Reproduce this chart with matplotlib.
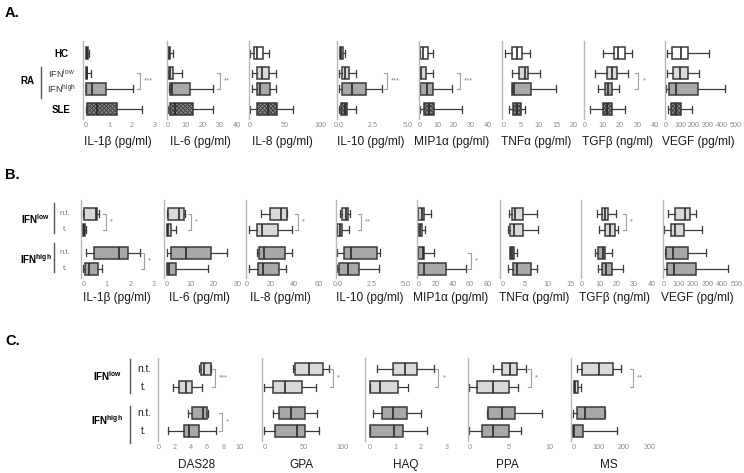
import matplotlib
matplotlib.use("Agg")
import matplotlib.pyplot as plt

W, H = 744, 473

plt.rcParams["font.family"] = ["Liberation Sans", "DejaVu Sans"]
plt.rcParams["mathtext.fontset"] = "custom"
plt.rcParams["mathtext.rm"] = "Liberation Sans"
plt.rcParams["mathtext.bf"] = "Liberation Sans:bold"
plt.rcParams["hatch.linewidth"] = 0.6

# ---- data: (whisker low, q1, median, q3, whisker high) per row ----
# A: rows HC, RA IFNlow, RA IFNhigh, SLE
A_IL1B = [(0, 0, 0.05, 0.1, 0.12), (0, 0, 0.03, 0.06, 0.2), (0, 0, 0.25, 0.87, 2.05), (0, 0.05, 0.46, 1.33, 2.45)]
A_IL6 = [(0, 0, 0.5, 1.3, 2.9), (0, 0.4, 1.3, 3.3, 8), (0.5, 1.3, 2.3, 12.8, 26.2), (0, 1.3, 4.2, 14.7, 26.2)]
A_IL8 = [(0, 5, 9.5, 19, 27.6), (2.4, 10.5, 16.7, 27.6, 37), (2.4, 9.5, 14.3, 28.6, 37), (0, 10.5, 26.2, 39, 62)]
A_IL10 = [(0.07, 0.07, 0.15, 0.27, 0.44), (0.02, 0.2, 0.44, 0.73, 1.24), (0.02, 0.24, 0.97, 1.95, 3.17), (0.02, 0.15, 0.41, 0.61, 1.24)]
A_MIP1A = [(0, 0, 1.6, 4.9, 7.4), (0, 0, 0.8, 3.3, 7.8), (0, 0, 4.3, 7.4, 18.5), (0, 2.5, 5.5, 8.2, 24.4)]
A_TNFA = [(0.5, 2.4, 3.8, 5.2, 7.5), (2.6, 4.5, 6.1, 6.9, 10.4), (2.6, 2.6, 3.0, 7.7, 14.9), (1.7, 2.8, 3.8, 4.9, 6.1)]
A_TGFB = [(10.5, 16.6, 19, 22.9, 26.7), (5.7, 12.4, 15.2, 18.1, 24.8), (7.2, 11.4, 13.3, 15.2, 19.6), (2.9, 10.5, 12.8, 15.2, 22.9)]
A_VEGF = [(10, 40, 105, 160, 310), (5, 48, 100, 160, 238), (0, 24, 71, 231, 421), (17, 36, 71, 105, 183)]

# B: rows IFNlow n.t., IFNlow t., IFNhigh n.t., IFNhigh t.
B_IL1B = [(0, 0.03, 0.52, 0.57, 0.68), (0, 0, 0.03, 0.08, 0.1), (0.1, 0.47, 1.5, 1.91, 2.4), (0, 0.07, 0.25, 0.64, 0.8)]
B_IL6 = [(0, 0.7, 5.2, 7.5, 7.9), (0.3, 0.3, 0.7, 1.7, 3.8), (0.3, 1.8, 8.1, 18.7, 25.5), (0.3, 0.3, 1.1, 3.8, 17.5)]
B_IL8 = [(12, 19.5, 28.8, 33.5, 34), (2.2, 9, 12.6, 26, 37.7), (8.4, 10.6, 14.8, 32, 37.7), (2.2, 9.8, 14, 27, 32.7)]
B_IL10 = [(0.2, 0.36, 0.61, 0.75, 0.92), (0, 0, 0.19, 0.36, 0.85), (0, 0.51, 0.97, 2.86, 3.1), (0, 0.15, 0.75, 1.58, 3.06)]
B_MIP1A = [(0, 0, 4.6, 6.6, 14.3), (0, 0, 1.5, 3.9, 7.7), (0, 0, 5.8, 7, 18), (0, 0, 6.6, 32, 55.2)]
B_TNFA = [(1.55, 2.07, 2.9, 4.5, 7.6), (1.33, 1.7, 2.66, 4.5, 8.0), (1.7, 1.7, 2.2, 2.66, 3.3), (1.33, 2.44, 3.33, 6.3, 7.6)]
B_TGFB = [(9, 11.4, 13.3, 14.9, 19.4), (10.1, 13.5, 16.2, 19, 21), (7.4, 9.1, 12.4, 13.3, 17.1), (9.1, 11.8, 13.7, 17.5, 23.8)]
B_VEGF = [(34, 82, 148, 182, 223), (7, 50, 80, 143, 266), (11, 18, 64, 170, 291), (0, 27, 73, 223, 443)]

# C: rows IFNlow n.t., IFNlow t., IFNhigh n.t., IFNhigh t.
C_DAS28 = [(4.98, 5.19, 5.6, 6.43, 6.5), (1.78, 2.53, 3.36, 4.1, 5.3), (3.57, 4.1, 5.52, 6.0, 6.1), (1.16, 3.11, 3.78, 4.98, 7.05)]
C_GPA = [(36.3, 39.3, 57.7, 75.6, 82.5), (0, 10.7, 26.5, 47.9, 66.2), (11.5, 18.4, 33.8, 51.7, 67), (0, 13.7, 41.5, 52.6, 70.5)]
C_HAQ = [(0.26, 0.91, 1.37, 1.83, 2.5), (0, 0, 0.39, 1.11, 1.5), (0.13, 0.46, 0.89, 1.46, 2.0), (0, 0, 0.95, 1.3, 2.22)]
C_PPA = [(3.0, 4.06, 5.1, 6.03, 7.07), (0, 1.0, 3.0, 5.02, 6.07), (2.18, 2.3, 4.06, 5.73, 9.08), (0, 1.55, 3.0, 5.02, 6.49)]
C_MS = [(15.8, 32.9, 102.6, 155, 187), (2.6, 2.6, 8, 19.7, 30.3), (0, 15.8, 46, 123.7, 123.7), (0, 0, 4, 39.5, 173.7)]

A_LABELS = ["IL-1β (pg/ml)", "IL-6 (pg/ml)", "IL-8 (pg/ml)", "IL-10 (pg/ml)",
            "MIP1α (pg/ml)", "TNFα (pg/ml)", "TGFβ (ng/ml)", "VEGF (pg/ml)"]
C_LABELS = ["DAS28", "GPA", "HAQ", "PPA", "MS"]

A_TICKS = [[0, 1, 2, 3], [0, 10, 20, 30, 40], [0, 50, 100], [0, 2.5, 5],
           [0, 10, 20, 30, 40], [0, 5, 10, 15, 20], [0, 10, 20, 30, 40], [0, 100, 200, 300, 400, 500]]
B_TICKS = [[0, 1, 2, 3], [0, 10, 20, 30], [0, 20, 40, 60], [0, 2.5, 5],
           [0, 20, 40, 60, 80], [0, 5, 10, 15], [0, 10, 20, 30, 40], [0, 100, 200, 300, 400, 500]]
C_TICKS = [[0, 2, 4, 6, 8, 10], [0, 50, 100], [0, 1, 2, 3], [0, 5, 10], [0, 100, 200, 300]]

# significance brackets: (row a, row b, x value, stars)
A_SIG = [[(1, 2, 2.35, "***")], [(1, 2, 30, "**")], [], [(1, 2, 3.5, "***")],
         [(1, 2, 23.4, "***")], [], [(1, 2, 30.5, "*")], []]
B_SIG = [[(0, 1, 0.96, "*"), (2, 3, 2.57, "*")], [(0, 1, 10.2, "*")], [(0, 1, 42.7, "*")],
         [(0, 1, 1.72, "**")], [(2, 3, 60.7, "*")], [], [(0, 1, 25.3, "*")], []]
C_SIG = [[(0, 1, 6.97, "***"), (2, 3, 7.8, "*")], [(0, 1, 87.6, "*")], [(0, 1, 2.67, "*")],
         [(0, 1, 7.74, "*")], [(0, 1, 234, "**")]]

# ---- layout (pixels) ----
WHITE, LIGHT, MID, DARK = "#ffffff", "#d9d9d9", "#a8a8a8", "#8c8c8c"
EDGE = "#3a3a3a"

# (spine x, zero x, end x, end value)
A_X = [(83, 86, 155, 3), (166.7, 167.7, 237.3, 40), (249.3, 250, 320, 100), (337.3, 339, 407.3, 5),
       (419.3, 420, 488.3, 40), (502.3, 503.3, 574, 20), (584.3, 585, 655, 40), (665.3, 666, 736, 500)]
B_X = [(81, 83.3, 154, 3), (164, 166.7, 237.3, 30), (246, 246.7, 318.3, 60), (335.7, 337.3, 406, 5),
       (416.7, 418.3, 487.3, 80), (500, 502.3, 570, 15), (581, 581.7, 651.7, 40), (662.7, 663.3, 736.7, 500)]
C_X = [(158.3, 159, 239.3, 10), (261.7, 264.3, 342.3, 100), (365, 370, 446.7, 3),
       (468.3, 469.3, 549, 10), (570.7, 573.3, 649.3, 300)]

A_ROWS = [53.5, 73.5, 89, 109.5]
B_ROWS = [213.5, 229.5, 252.5, 268.5]
C_ROWS = [368.5, 387, 413, 430.5]


def draw_panel(fig, xspec, top, bottom, rows, stats, fills, ticks, label, label_y,
               label_size, sigs, hatch_last=False, decimal=False):
    spine, zero, end, vmax = xspec
    scale = (end - zero) / vmax
    ax = fig.add_axes([spine / W, 1 - bottom / H, (end - spine) / W, (bottom - top) / H])
    ax.set_xlim(-(zero - spine) / scale, vmax)
    ax.set_ylim(bottom, top)

    bstats = [dict(whislo=s[0], q1=s[1], med=s[2], q3=s[3], whishi=s[4]) for s in stats]
    art = ax.bxp(bstats, positions=rows, widths=12, capwidths=7, orientation="horizontal",
                 patch_artist=True, showfliers=False, manage_ticks=False,
                 boxprops=dict(edgecolor=EDGE, linewidth=1.1),
                 medianprops=dict(color="#2a2a2a", linewidth=1.2),
                 whiskerprops=dict(color=EDGE, linewidth=0.9),
                 capprops=dict(color=EDGE, linewidth=0.9))
    for i, patch in enumerate(art["boxes"]):
        patch.set_facecolor(fills[i])
        if hatch_last and i == len(art["boxes"]) - 1:
            patch.set_hatch("xxxxxxxx")

    for a, b, x, stars in sigs:
        arm = 3 / scale
        ya, yb = rows[a], rows[b]
        ax.plot([x - arm, x, x, x - arm], [ya, ya, yb, yb], color="#a0a0a0",
                linewidth=0.8, clip_on=False)
        ax.annotate(stars, (x, (ya + yb) / 2), xytext=(3, 0), textcoords="offset points",
                    ha="left", va="center", fontsize=5.5, color="#808080")

    for side in ["top", "right", "bottom"]:
        ax.spines[side].set_visible(False)
    ax.spines["left"].set_color("#b8b8b8")
    ax.spines["left"].set_linewidth(1.0)
    ax.set_yticks([])
    ax.set_xticks(ticks)
    ax.set_xticklabels([f"{t:.1f}" if decimal else str(t) for t in ticks])
    ax.tick_params(axis="x", length=0, labelsize=5.2, labelcolor="#8c8c8c", pad=2)

    fig.text((zero + end) / 2 / W - 0.003, 1 - label_y / H, label, ha="center", va="center",
             fontsize=label_size, color="#1a1a1a")
    return ax


def main():
    fig = plt.figure(figsize=(W / 100, H / 100), dpi=100)
    fig.patch.set_facecolor("white")

    def ftext(x, y, s, **kw):
        fig.text(x / W, 1 - y / H, s, **kw)

    def fline(x0, y0, x1, y1, **kw):
        fig.add_artist(plt.Line2D([x0 / W, x1 / W], [1 - y0 / H, 1 - y1 / H],
                                  transform=fig.transFigure, **kw))

    # ---- panel A ----
    ftext(5, 13, "A.", fontsize=10.5, fontweight="bold", va="center")
    a_data = [A_IL1B, A_IL6, A_IL8, A_IL10, A_MIP1A, A_TNFA, A_TGFB, A_VEGF]
    for i, stats in enumerate(a_data):
        draw_panel(fig, A_X[i], 41, 119, A_ROWS, stats, [WHITE, LIGHT, MID, DARK],
                   A_TICKS[i], A_LABELS[i], 142, 8.6, A_SIG[i], hatch_last=True,
                   decimal=(i == 3))
    ftext(61, A_ROWS[0], "HC", fontsize=7, fontweight="bold", ha="center", va="center")
    ftext(61, A_ROWS[1], r"IFN$^{\mathrm{low}}$", fontsize=6.7, ha="center", va="center", color="#333333")
    ftext(61, A_ROWS[2], r"IFN$^{\mathrm{high}}$", fontsize=6.7, ha="center", va="center", color="#333333")
    ftext(61, A_ROWS[3], "SLE", fontsize=7, fontweight="bold", ha="center", va="center")
    ftext(27, 81, "RA", fontsize=7, fontweight="bold", ha="center", va="center")
    fline(41, 67, 41, 98, color="#555555", linewidth=1.0)

    # ---- panel B ----
    ftext(5, 175, "B.", fontsize=10.5, fontweight="bold", va="center")
    b_data = [B_IL1B, B_IL6, B_IL8, B_IL10, B_MIP1A, B_TNFA, B_TGFB, B_VEGF]
    for i, stats in enumerate(b_data):
        draw_panel(fig, B_X[i], 200, 278, B_ROWS, stats, [LIGHT, LIGHT, MID, MID],
                   B_TICKS[i], A_LABELS[i], 298, 8.6, B_SIG[i], decimal=(i == 3))
    ftext(35.5, 219, r"$\mathbf{IFN}^{\mathbf{low}}$", fontsize=7, ha="center", va="center")
    ftext(35.5, 259, r"$\mathbf{IFN}^{\mathbf{high}}$", fontsize=7, ha="center", va="center")
    fline(54, 203, 54, 233, color="#555555", linewidth=1.0)
    fline(54, 243, 54, 272, color="#555555", linewidth=1.0)
    for r, s in zip(B_ROWS, ["n.t.", "t.", "n.t.", "t."]):
        ftext(65, r, s, fontsize=5.5, ha="center", va="center", color="#707070")

    # ---- panel C ----
    ftext(5, 341, "C.", fontsize=10.5, fontweight="bold", va="center")
    c_data = [C_DAS28, C_GPA, C_HAQ, C_PPA, C_MS]
    for i, stats in enumerate(c_data):
        draw_panel(fig, C_X[i], 358, 441, C_ROWS, stats, [LIGHT, LIGHT, MID, MID],
                   C_TICKS[i], C_LABELS[i], 465, 8.5, C_SIG[i])
    ftext(108, 376, r"$\mathbf{IFN}^{\mathbf{low}}$", fontsize=7, ha="center", va="center")
    ftext(107, 420, r"$\mathbf{IFN}^{\mathbf{high}}$", fontsize=7, ha="center", va="center")
    fline(130, 359, 130, 393, color="#555555", linewidth=1.0)
    fline(130, 406, 130, 443, color="#555555", linewidth=1.0)
    for r, s in zip(C_ROWS, ["n.t.", "t.", "n.t.", "t."]):
        ftext(144, r, s, fontsize=7.3, ha="center", va="center", color="#222222")

    fig.savefig("out.png", dpi=100)
    plt.close(fig)


if __name__ == "__main__":
    main()
